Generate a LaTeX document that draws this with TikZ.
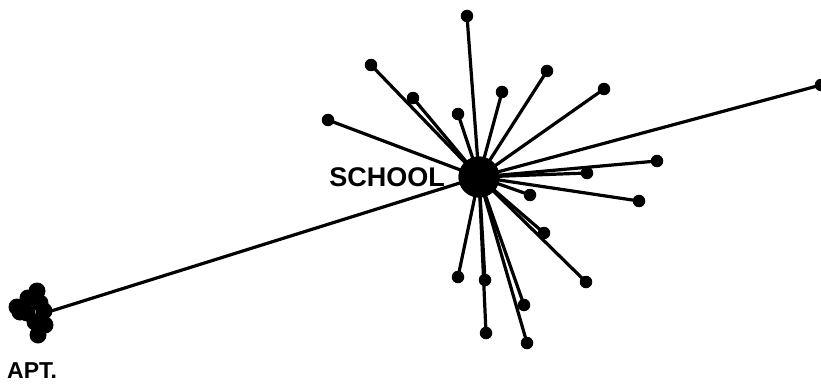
\documentclass[tikz,border=0pt]{standalone}
\usepackage{fontspec}
\setmainfont{Liberation Sans}
\begin{document}
\begin{tikzpicture}[x=1pt,y=-1pt,
  ray/.style={line width=3.2pt,black},
  dot/.style={circle,fill=black,inner sep=0pt,minimum size=12.5pt},
  hub/.style={circle,fill=black,inner sep=0pt,minimum size=41pt},
  blob/.style={circle,fill=black,inner sep=0pt,minimum size=17pt},
  lbl/.style={font=\bfseries\fontsize{27}{27}\selectfont,inner sep=0pt}]
\useasboundingbox (0,0) rectangle (821,385);
% hub
\node[hub] (s) at (479,177) {};
\node[lbl,anchor=east] (school) at (445,177) {SCHOOL};
% endpoints
\node[dot] (e1) at (467,16) {};
\node[dot] (e2) at (371,65) {};
\node[dot] (e3) at (413,98) {};
\node[dot] (e4) at (458,114) {};
\node[dot] (e5) at (328,120) {};
\node[dot] (e6) at (502,92) {};
\node[dot] (e7) at (547,71) {};
\node[dot] (e8) at (604,89) {};
\node[dot] (e9) at (821,85) {};
\node[dot] (e10) at (657,161) {};
\node[dot] (e11) at (587,173) {};
\node[dot] (e12) at (639,201) {};
\node[dot] (e13) at (530,195) {};
\node[dot] (e14) at (544,233) {};
\node[dot] (e15) at (586,282) {};
\node[dot] (e16) at (458,277) {};
\node[dot] (e17) at (485,280) {};
\node[dot] (e18) at (486,333) {};
\node[dot] (e19) at (524,305) {};
\node[dot] (e20) at (527,343) {};
% apartment cluster
\node[blob] (a1) at (37,291) {};
\node[blob] (a2) at (28,298) {};
\node[blob] (a3) at (17,307) {};
\node[blob] (a4) at (40,303) {};
\node[blob] (a5) at (44,311) {};
\node[blob] (a6) at (27,313) {};
\node[blob] (a7) at (45,325) {};
\node[blob] (a8) at (38,335) {};
\node[blob] (a9) at (20,312) {};
\node[blob] (a10) at (35,322) {};
\coordinate (apt) at (48,312);
\node[lbl,font=\bfseries\fontsize{23}{23}\selectfont,anchor=west] (apttext) at (7,371) {APT.};
% rays
\foreach \e in {e1,e2,e3,e4,e5,e6,e7,e8,e9,e10,e11,e12,e13,e14,e15,e16,e17,e18,e19,e20}
  \draw[ray] (s.center) -- (\e.center);
\draw[ray] (s.center) -- (apt);
\node[hub] at (s) {};
\end{tikzpicture}
\end{document}
